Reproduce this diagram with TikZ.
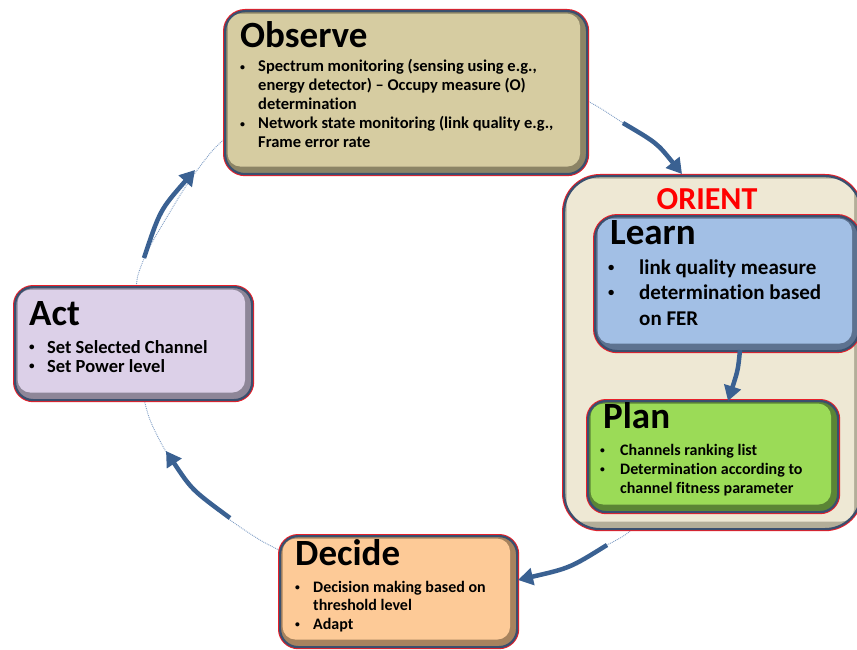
\documentclass[tikz,border=0pt]{standalone}
\usepackage{fontspec}
\usepackage{graphicx}
\setmainfont{Carlito}[Ligatures=NoCommon]
\usetikzlibrary{arrows.meta}
\definecolor{obsFill}{HTML}{D6CCA1}
\definecolor{obsShade}{HTML}{8C8465}
\definecolor{oriFill}{HTML}{EEE8D4}
\definecolor{oriShade}{HTML}{B3AE99}
\definecolor{lrnFill}{HTML}{A2BFE5}
\definecolor{lrnShade}{HTML}{5D7290}
\definecolor{plnFill}{HTML}{9BDB57}
\definecolor{plnShade}{HTML}{5B8535}
\definecolor{actFill}{HTML}{DCD0E8}
\definecolor{actShade}{HTML}{8E8698}
\definecolor{decFill}{HTML}{FDCA97}
\definecolor{decShade}{HTML}{A7835E}
\definecolor{bordBlue}{HTML}{3A4F6E}
\definecolor{rimRed}{HTML}{E8202A}
\definecolor{arrBlue}{HTML}{3A6192}
\definecolor{dotBlue}{HTML}{7E9CC4}
\newcommand\bitem[1]{\makebox[#1][l]{\hspace{1pt}\raisebox{0.12em}{\scalebox{0.6}{\textbullet}}}}
\tikzset{
  cbox/.style={rectangle, rounded corners=#1, draw=bordBlue, line width=2.2pt,
    preaction={draw=rimRed, line width=4.2pt}, inner sep=0pt, anchor=north west},
  boxcol/.style 2 args={fill=#1, path picture={\fill[#2, rounded corners=13pt]
    ([shift={(2.5,2.5)}]path picture bounding box.north west) rectangle
    ([shift={(-7,-7.5)}]path picture bounding box.south east);}},
  title/.style={anchor=base west, inner sep=0pt, font=\fontsize{37}{40}\selectfont\bfseries},
  body/.style={anchor=base west, inner sep=0pt},
  arr/.style={draw=arrBlue, line width=4.5pt, -{Triangle[length=15pt,width=17pt]}},
  dotline/.style={draw=dotBlue, line width=0.9pt, densely dotted},
}
\begin{document}
\begin{tikzpicture}[x=1pt,y=-1pt]
\useasboundingbox (0,0) rectangle (857,650);
\clip (0,0) rectangle (857,650);
% dotted cycle
\draw[dotline] plot[smooth] coordinates {(575,94) (600,108) (623,123)};
\draw[dotline] plot[smooth] coordinates {(640,522) (625,535) (607,545)};
\draw[dotline] plot[smooth] coordinates {(235,130) (213,150) (188,183) (167,217) (148,250) (138,275) (136,292)};
\draw[dotline] plot[smooth] coordinates {(143,395) (150,420) (165,450) (183,475) (205,500) (230,520) (260,540) (285,553)};
% boxes
\node[cbox=20pt, boxcol={obsShade}{obsFill}, minimum width=362pt, minimum height=163pt] (observe) at (224,10) {};
\node[cbox=36pt, boxcol={oriShade}{oriFill}, minimum width=297pt, minimum height=353pt] (orient) at (563,175) {};
\node[cbox=22pt, boxcol={lrnShade}{lrnFill}, minimum width=264pt, minimum height=135pt] (learn) at (594,215) {};
\node[cbox=18pt, boxcol={plnShade}{plnFill}, minimum width=250pt, minimum height=111pt] (plan) at (587,400) {};
\node[cbox=18pt, boxcol={actShade}{actFill}, minimum width=237pt, minimum height=113pt] (act) at (14,286) {};
\node[cbox=18pt, boxcol={decShade}{decFill}, minimum width=237pt, minimum height=111pt] (decide) at (279,535) {};
% texts
\node[title] (obsT) at (240,48) {Observe};
\node[body, font=\fontsize{16.5}{19}\selectfont\bfseries] (obsB) at (239,72) {\begin{tabular}[t]{@{}l@{}l@{}}
\bitem{19pt} & Spectrum monitoring (sensing using e.g.,\\
 & energy detector) – Occupy measure (O)\\
 & determination\\
\bitem{19pt} & Network state monitoring (link quality e.g.,\\
 & Frame error rate
\end{tabular}};
\node[anchor=base, inner sep=0pt, text=red, font=\fontsize{32}{34}\selectfont\bfseries] (oriT) at (707,209) {ORIENT};
\node[title] (lrnT) at (610,244) {Learn};
\node[body, font=\fontsize{21}{25.5}\selectfont\bfseries] (lrnB) at (607,274) {\begin{tabular}[t]{@{}l@{}l@{}}
\bitem{32pt} & link quality measure\\
\bitem{32pt} & determination based\\
 & on FER
\end{tabular}};
\node[title] (plnT) at (603,428) {Plan};
\node[body, font=\fontsize{16}{19}\selectfont\bfseries] (plnB) at (599,455) {\begin{tabular}[t]{@{}l@{}l@{}}
\bitem{21pt} & Channels ranking list\\
\bitem{21pt} & Determination according to\\
 & channel fitness parameter
\end{tabular}};
\node[title] (actT) at (29,325) {Act};
\node[body, font=\fontsize{18.5}{19}\selectfont\bfseries] (actB) at (28,353) {\begin{tabular}[t]{@{}l@{}l@{}}
\bitem{19pt} & Set Selected Channel\\
\bitem{19pt} & Set Power level
\end{tabular}};
\node[title] (decT) at (295,565) {Decide};
\node[body, font=\fontsize{16}{18.5}\selectfont\bfseries] (decB) at (294,592) {\begin{tabular}[t]{@{}l@{}l@{}}
\bitem{19pt} & Decision making based on\\
 & threshold level\\
\bitem{19pt} & Adapt
\end{tabular}};
% arrows
\coordinate (a1s) at (623,123); \coordinate (a1e) at (682,174);
\coordinate (a2s) at (607,545); \coordinate (a2e) at (518,580);
\coordinate (a3s) at (230,518); \coordinate (a3e) at (166,451);
\coordinate (a4s) at (144,258); \coordinate (a4e) at (195,170);
\coordinate (a5s) at (740,350); \coordinate (a5e) at (728,401);
\draw[arr] (a1s) .. controls (657,143) .. (a1e);
\draw[arr] (a2s) .. controls (570,568) .. (a2e);
\draw[arr] (a3s) .. controls (192,490) .. (a3e);
\draw[arr] (a4s) .. controls (160,210) .. (a4e);
\draw[arr] (a5s) .. controls (738,370) .. (a5e);
\end{tikzpicture}
\end{document}
